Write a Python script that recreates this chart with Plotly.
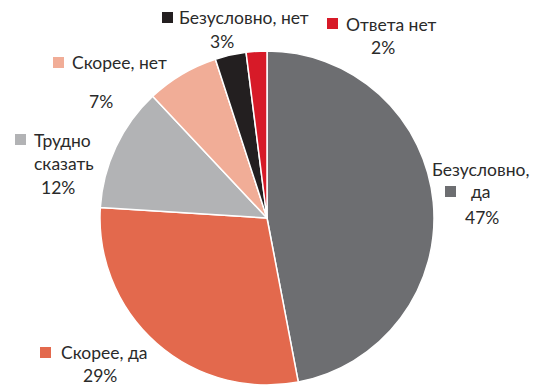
import plotly.graph_objects as go

# Survey answers, clockwise from 12 o'clock
categories = ["Безусловно, да", "Скорее, да", "Трудно сказать",
              "Скорее, нет", "Безусловно, нет", "Ответа нет"]
values = [47, 29, 12, 7, 3, 2]
colors = ["#6d6e71", "#e3694d", "#b2b3b5", "#f1ad97", "#231f20", "#d71a28"]

W, H = 536, 385
TEXT = "#2a2a2a"
FONT = "Lato"
FS = 17.5

fig = go.Figure(go.Pie(
    labels=categories,
    values=values,
    sort=False,
    direction="clockwise",
    rotation=0,
    marker=dict(colors=colors, line=dict(color="white", width=1.5)),
    textinfo="none",
    hoverinfo="label+percent",
    showlegend=False,
    domain=dict(x=[100 / W, 434 / W], y=[0, 334 / H]),
))

# label layout: lines of (text, x_px, y_px, anchor), square marker (x_px, y_px)
label_layout = [
    # Безусловно, да
    dict(lines=[("Безусловно,", 480, 169, "center"), ("да", 481, 192, "center")],
         pct=(482, 217), sq=(445, 186)),
    # Скорее, да
    dict(lines=[("Скорее, да", 59, 352, "left")], pct=(100, 375), sq=(40, 347)),
    # Трудно сказать
    dict(lines=[("Трудно", 32, 140, "left"), ("сказать", 32, 164, "left")],
         pct=(58, 187), sq=(15, 134)),
    # Скорее, нет
    dict(lines=[("Скорее, нет", 70, 63, "left")], pct=(101, 102), sq=(53, 57)),
    # Безусловно, нет
    dict(lines=[("Безусловно, нет", 177, 17, "left")], pct=(222, 41), sq=(162, 12)),
    # Ответа нет
    dict(lines=[("Ответа нет", 344, 24, "left")], pct=(383, 47), sq=(327, 18)),
]

SQ = 11
annotations, shapes = [], []
for val, col, lay in zip(values, colors, label_layout):
    for txt, x, y, anc in lay["lines"]:
        annotations.append(dict(text=txt, x=x / W, y=1 - y / H, xref="paper", yref="paper",
                                xanchor=anc, yanchor="middle", showarrow=False,
                                font=dict(family=FONT, size=FS, color=TEXT)))
    px, py = lay["pct"]
    annotations.append(dict(text=f"{val}%", x=px / W, y=1 - py / H, xref="paper", yref="paper",
                            xanchor="center", yanchor="middle", showarrow=False,
                            font=dict(family=FONT, size=FS, color=TEXT)))
    sx, sy = lay["sq"]
    shapes.append(dict(type="rect", xref="paper", yref="paper",
                       x0=sx / W, x1=(sx + SQ) / W, y0=1 - (sy + SQ) / H, y1=1 - sy / H,
                       fillcolor=col, line=dict(width=0)))

fig.update_layout(
    width=W, height=H,
    margin=dict(l=0, r=0, t=0, b=0),
    paper_bgcolor="white", plot_bgcolor="white",
    annotations=annotations, shapes=shapes,
)

fig.write_html("out.html")
